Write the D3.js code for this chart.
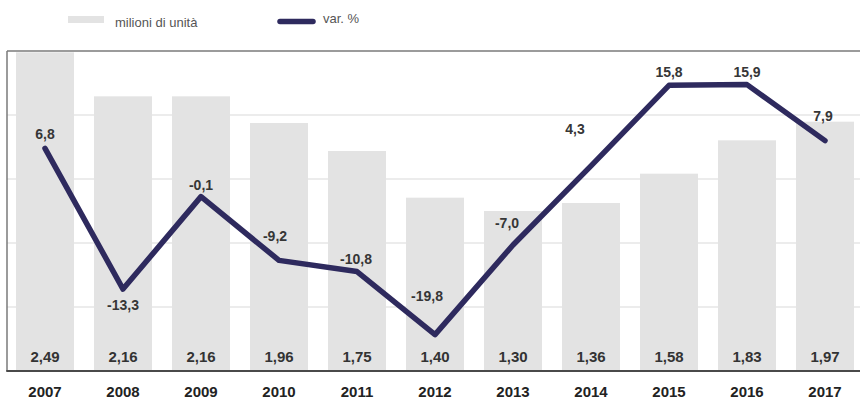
<!DOCTYPE html>
<html>
<head>
<meta charset="utf-8">
<script src="https://cdn.jsdelivr.net/npm/d3@7"></script>
<style>
  body { margin: 0; background: #fff; }
  svg { display: block; font-family: "Liberation Sans", Arial, Helvetica, sans-serif; }
</style>
</head>
<body>
<div id="chart"></div>
<script>
// units sold (millions) and yearly % change
var years = ["2007", "2008", "2009", "2010", "2011", "2012", "2013", "2014", "2015", "2016", "2017"];
var units = [2.49, 2.16, 2.16, 1.96, 1.75, 1.40, 1.30, 1.36, 1.58, 1.83, 1.97];
var change = [6.8, -13.3, -0.1, -9.2, -10.8, -19.8, -7.0, 4.3, 15.8, 15.9, 7.9];

// hand placement of the % labels so they clear the line [dx, dy]
var labelNudge = {
    "2007": [0, -9], "2008": [0, 21], "2009": [0, -7], "2010": [-4, -19],
    "2011": [-1, -8], "2012": [-8, -34], "2013": [-6, -17], "2014": [-16, -32],
    "2015": [0, -8], "2016": [0, -8], "2017": [-2, -20]
};

var fmt = function(v, dec){ return v.toFixed(dec).replace(".", ","); };

var W = 860, H = 399;
var frame = { left: 7, top: 51, bottom: 371, right: 860 };

var svg = d3.select("#chart").append("svg")
    .attr("width", W)
    .attr("height", H);

var x = d3.scaleBand()
    .domain(years)
    .range([6, 864])
    .paddingInner(0.256)
    .paddingOuter(0.128);

var yBar = d3.scaleLinear()
    .domain([0.1, 2.5])
    .range([frame.bottom, frame.top]);

var yLine = d3.scaleLinear()
    .domain([-25, 20.7])
    .range([frame.bottom, frame.top]);

var grid = d3.scaleLinear().domain([0, 5]).range([frame.bottom, frame.top]);

// legend
var legend = svg.append("g");
legend.append("rect")
    .attr("x", 68).attr("y", 16)
    .attr("width", 36).attr("height", 7)
    .attr("fill", "#e3e3e3");
legend.append("text")
    .attr("x", 115).attr("y", 27)
    .attr("font-size", "13px")
    .attr("fill", "#555")
    .text("milioni di unità");
legend.append("line")
    .attr("x1", 280).attr("x2", 313)
    .attr("y1", 21.5).attr("y2", 21.5)
    .attr("stroke", "#2e2a5e")
    .attr("stroke-width", 5.5)
    .attr("stroke-linecap", "round");
legend.append("text")
    .attr("x", 323).attr("y", 23)
    .attr("font-size", "13px")
    .attr("fill", "#555")
    .text("var. %");

// gridlines
svg.append("g").selectAll("line")
    .data(d3.range(1, 5))
    .enter().append("line")
    .attr("x1", frame.left).attr("x2", frame.right)
    .attr("y1", function(d){ return grid(d); })
    .attr("y2", function(d){ return grid(d); })
    .attr("stroke", "#dadada")
    .attr("stroke-width", 1.2);

// bars
svg.append("g").selectAll("rect")
    .data(units)
    .enter().append("rect")
    .attr("x", function(d, i){ return x(years[i]); })
    .attr("width", x.bandwidth())
    .attr("y", function(d){ return yBar(d); })
    .attr("height", function(d){ return frame.bottom - yBar(d); })
    .attr("fill", "#e3e3e3");

// bar values
svg.append("g").selectAll("text")
    .data(units)
    .enter().append("text")
    .attr("x", function(d, i){ return x(years[i]) + x.bandwidth() / 2; })
    .attr("y", 362)
    .attr("text-anchor", "middle")
    .attr("font-size", "15px")
    .attr("font-weight", "bold")
    .attr("fill", "#333")
    .text(function(d){ return fmt(d, 2); });

// frame
svg.append("line")
    .attr("x1", frame.left).attr("x2", frame.right)
    .attr("y1", frame.top).attr("y2", frame.top)
    .attr("stroke", "#7a7a7a").attr("stroke-width", 1.5);
svg.append("line")
    .attr("x1", frame.left).attr("x2", frame.left)
    .attr("y1", frame.top).attr("y2", frame.bottom)
    .attr("stroke", "#7a7a7a").attr("stroke-width", 1.5);
svg.append("line")
    .attr("x1", frame.left - 0.75).attr("x2", frame.right)
    .attr("y1", frame.bottom).attr("y2", frame.bottom)
    .attr("stroke", "#4a4a4a").attr("stroke-width", 2);

// % change line
var line = d3.line()
    .x(function(d, i){ return x(years[i]) + x.bandwidth() / 2; })
    .y(function(d){ return yLine(d); });

svg.append("path")
    .datum(change)
    .attr("d", line)
    .attr("fill", "none")
    .attr("stroke", "#2e2a5e")
    .attr("stroke-width", 5.5)
    .attr("stroke-linejoin", "round")
    .attr("stroke-linecap", "round");

svg.append("g").selectAll("text")
    .data(change)
    .enter().append("text")
    .attr("x", function(d, i){ return x(years[i]) + x.bandwidth() / 2 + labelNudge[years[i]][0]; })
    .attr("y", function(d, i){ return yLine(d) + labelNudge[years[i]][1]; })
    .attr("text-anchor", "middle")
    .attr("font-size", "14px")
    .attr("font-weight", "bold")
    .attr("fill", "#363636")
    .text(function(d){ return fmt(d, 1); });

// x axis years
var xAxis = svg.append("g")
    .attr("transform", "translate(0," + frame.bottom + ")")
    .call(d3.axisBottom(x).tickSize(0).tickPadding(15));
xAxis.select(".domain").remove();
xAxis.selectAll("text")
    .attr("font-family", "\"Liberation Sans\", Arial, sans-serif")
    .attr("font-size", "15px")
    .attr("font-weight", "bold")
    .attr("fill", "#222");
</script>
</body>
</html>
